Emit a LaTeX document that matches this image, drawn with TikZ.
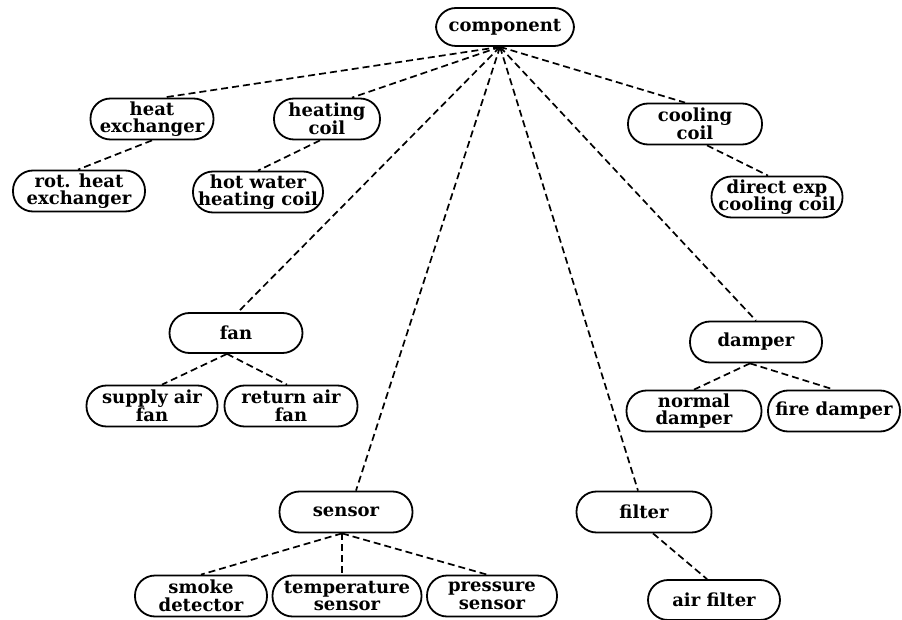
\documentclass[tikz,border=0pt]{standalone}
\usepackage{fontspec}
\setmainfont{DejaVu Serif}
\newcommand\myboxfont{\fontsize{18}{17.5}\selectfont\bfseries\lineskiplimit=-40pt\relax}
\begin{document}
\begin{tikzpicture}[x=1pt,y=-1pt,
  box/.style={draw, line width=1.8pt, rounded corners=20pt, minimum height=41pt,
    inner sep=0pt, align=center, font=\myboxfont},
  link/.style={line width=1.7pt, dash pattern=on 7pt off 4pt}]
\useasboundingbox (0,0) rectangle (902,620);
\node[box, minimum width=138pt, minimum height=38pt] (comp) at (505,27) {component};
\node[box, minimum width=123pt] (hx) at (152,119) {heat\\exchanger};
\node[box, minimum width=106pt] (hc) at (327,119) {heating\\coil};
\node[box, minimum width=134pt] (cc) at (695,124) {cooling\\coil};
\node[box, minimum width=132pt] (rhx) at (79,191) {rot. heat\\exchanger};
\node[box, minimum width=130pt] (hw) at (258,192) {hot water\\heating coil};
\node[box, minimum width=131pt] (dx) at (777,197) {direct exp\\cooling coil};
\node[box, minimum width=133pt, minimum height=40pt] (fan) at (236,333) {fan};
\node[box, minimum width=131pt] (saf) at (152,406) {supply air\\fan};
\node[box, minimum width=133pt] (raf) at (291,406) {return air\\fan};
\node[box, minimum width=132pt] (dmp) at (756,342) {damper};
\node[box, minimum width=135pt] (nd) at (694,411) {normal\\damper};
\node[box, minimum width=132pt] (fd) at (834,411) {fire damper};
\node[box, minimum width=133pt] (sen) at (346,512) {sensor};
\node[box, minimum width=132pt] (smk) at (201,596) {smoke\\detector};
\node[box, minimum width=149pt] (tmp) at (347,596) {temperature\\sensor};
\node[box, minimum width=130pt] (prs) at (492,596) {pressure\\sensor};
\node[box, minimum width=135pt] (flt) at (644,512) {filter};
\node[box, minimum width=132pt, minimum height=40pt] (af) at (714,600) {air filter};
\coordinate (hub) at ([xshift=-5pt]comp.south);
\draw[link] (hub) -- ([xshift=11pt]hx.north);
\draw[link] (hub) -- ([xshift=25pt]hc.north);
\draw[link] (hub) -- ([xshift=-10pt]cc.north);
\draw[link] (hub) -- ([xshift=2pt]fan.north);
\draw[link] (hub) -- (dmp.north);
\draw[link] (hub) -- ([xshift=10pt]sen.north);
\draw[link] (hub) -- ([xshift=-6pt]flt.north);
\draw[link] (hx.south) -- ([xshift=-1pt]rhx.north);
\draw[link] ([xshift=-7pt]hc.south) -- (hw.north);
\draw[link] ([xshift=12pt]cc.south) -- ([xshift=-9pt]dx.north);
\draw[link] ([xshift=-9pt]fan.south) -- ([xshift=10pt]saf.north);
\draw[link] ([xshift=-9pt]fan.south) -- ([xshift=-4pt]raf.north);
\draw[link] ([xshift=-6pt]dmp.south) -- (nd.north);
\draw[link] ([xshift=-6pt]dmp.south) -- (fd.north);
\draw[link] ([xshift=-4pt]sen.south) -- (smk.north);
\draw[link] ([xshift=-4pt]sen.south) -- ([xshift=-5pt]tmp.north);
\draw[link] ([xshift=-4pt]sen.south) -- ([xshift=-5pt]prs.north);
\draw[link] ([xshift=9pt]flt.south) -- ([xshift=-7pt]af.north);
\end{tikzpicture}
\end{document}
